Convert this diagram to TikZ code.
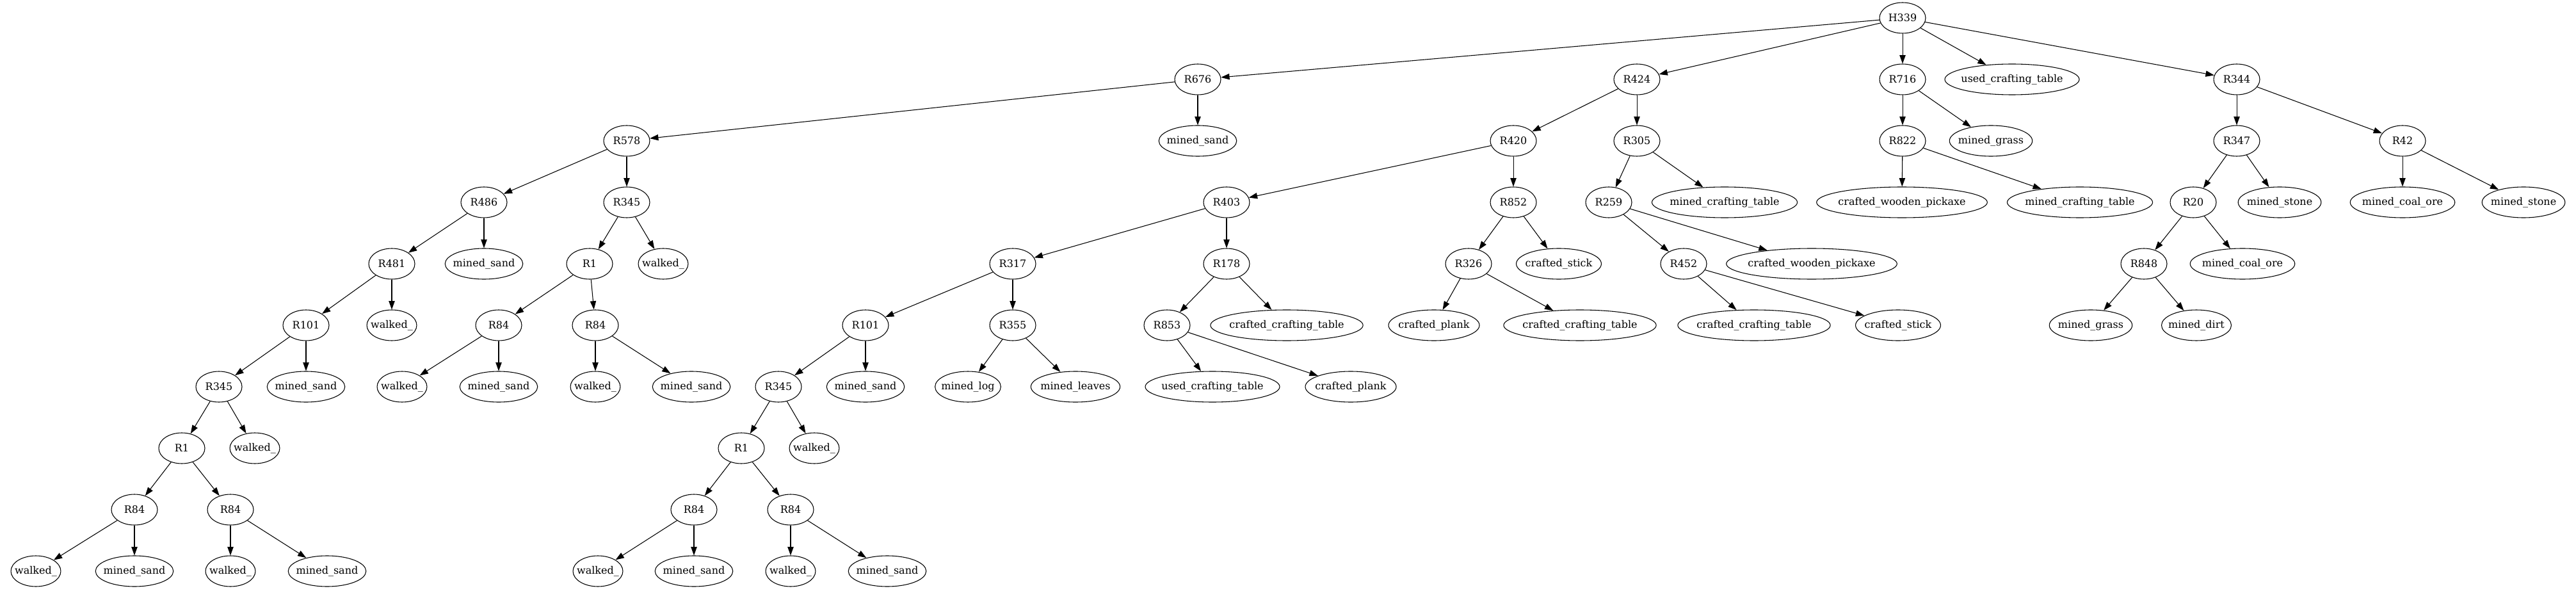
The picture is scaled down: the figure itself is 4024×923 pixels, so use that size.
\documentclass[tikz,border=0pt]{standalone}
\usepackage{fontspec}
\setmainfont{DejaVu Serif}
\usetikzlibrary{shapes.geometric,arrows.meta}
\newcommand{\gfont}{\fontsize{12}{14}\selectfont}
\newdimen\labelwd
% node with the ellipse width graphviz gives its label
\newcommand{\gnode}[3]{\settowidth{\labelwd}{\gfont #3}%
  \pgfmathsetlengthmacro{\ellwd}{max(54pt,1.2246*\labelwd+23pt)}%
  \node[minimum width=\ellwd] (#1) at (#2) {#3};}

\begin{document}
\begin{tikzpicture}[x=0.75pt,y=-0.75pt,line width=0.8pt,
    every node/.style={ellipse,draw,inner xsep=-4pt,inner ysep=2pt,
      minimum height=36pt,font=\gfont},
    >={Triangle[length=10pt,width=7pt]}]
      \useasboundingbox (0,0) rectangle (4024,923);
      % rank 0 and 1
      \gnode{1}{2972,28}{H339}
      \gnode{2}{1871,124}{R676}
      \gnode{3}{2557,124}{R424}
      \gnode{4}{2972,124}{R716}
      \gnode{5}{3143,124}{used\_crafting\_table}
      \gnode{6}{3494,124}{R344}
      % rank 2
      \gnode{7}{979,220}{R578}
      \gnode{8}{1871,220}{mined\_sand}
      \gnode{9}{2364,220}{R420}
      \gnode{10}{2557,220}{R305}
      \gnode{11}{2972,220}{R822}
      \gnode{12}{3110,220}{mined\_grass}
      \gnode{13}{3494,220}{R347}
      \gnode{14}{3753,220}{R42}
      % rank 3
      \gnode{15}{756,316}{R486}
      \gnode{16}{979,316}{R345}
      \gnode{17}{1916,316}{R403}
      \gnode{18}{2364,316}{R852}
      \gnode{19}{2513,316}{R259}
      \gnode{20}{2694,316}{mined\_crafting\_table}
      \gnode{21}{2971,316}{crafted\_wooden\_pickaxe}
      \gnode{22}{3249,316}{mined\_crafting\_table}
      \gnode{23}{3426,316}{R20}
      \gnode{24}{3561,316}{mined\_stone}
      \gnode{25}{3753,316}{mined\_coal\_ore}
      \gnode{26}{3942,316}{mined\_stone}
      % rank 4
      \gnode{27}{612,412}{R481}
      \gnode{28}{756,412}{mined\_sand}
      \gnode{29}{921,412}{R1}
      \gnode{30}{1036,412}{walked\_}
      \gnode{31}{1582,412}{R317}
      \gnode{32}{1916,412}{R178}
      \gnode{33}{2294,412}{R326}
      \gnode{34}{2435,412}{crafted\_stick}
      \gnode{35}{2630,412}{R452}
      \gnode{36}{2830,412}{crafted\_wooden\_pickaxe}
      \gnode{37}{3349,412}{R848}
      \gnode{38}{3503,412}{mined\_coal\_ore}
      % rank 5
      \gnode{39}{478,508}{R101}
      \gnode{40}{612,508}{walked\_}
      \gnode{41}{779,508}{R84}
      \gnode{42}{930,508}{R84}
      \gnode{43}{1352,508}{R101}
      \gnode{44}{1582,508}{R355}
      \gnode{45}{1823,508}{R853}
      \gnode{46}{2010,508}{crafted\_crafting\_table}
      \gnode{47}{2240,508}{crafted\_plank}
      \gnode{48}{2468,508}{crafted\_crafting\_table}
      \gnode{49}{2740,508}{crafted\_crafting\_table}
      \gnode{50}{2965,508}{crafted\_stick}
      \gnode{51}{3266,508}{mined\_grass}
      \gnode{52}{3431,508}{mined\_dirt}
      % rank 6
      \gnode{53}{342,604}{R345}
      \gnode{54}{478,604}{mined\_sand}
      \gnode{55}{628,604}{walked\_}
      \gnode{56}{779,604}{mined\_sand}
      \gnode{57}{930,604}{walked\_}
      \gnode{58}{1080,604}{mined\_sand}
      \gnode{59}{1216,604}{R345}
      \gnode{60}{1352,604}{mined\_sand}
      \gnode{61}{1512,604}{mined\_log}
      \gnode{62}{1680,604}{mined\_leaves}
      \gnode{63}{1894,604}{used\_crafting\_table}
      \gnode{64}{2110,604}{crafted\_plank}
      % rank 7
      \gnode{65}{284,700}{R1}
      \gnode{66}{398,700}{walked\_}
      \gnode{67}{1158,700}{R1}
      \gnode{68}{1272,700}{walked\_}
      % rank 8
      \gnode{69}{210,796}{R84}
      \gnode{70}{360,796}{R84}
      \gnode{71}{1084,796}{R84}
      \gnode{72}{1235,796}{R84}
      % rank 9
      \gnode{73}{56,892}{walked\_}
      \gnode{74}{210,892}{mined\_sand}
      \gnode{75}{360,892}{walked\_}
      \gnode{76}{511,892}{mined\_sand}
      \gnode{77}{934,892}{walked\_}
      \gnode{78}{1084,892}{mined\_sand}
      \gnode{79}{1235,892}{walked\_}
      \gnode{80}{1386,892}{mined\_sand}

      \draw[->] (1) -- (2); \draw[->] (1) -- (3); \draw[->] (1) -- (4);
      \draw[->] (1) -- (5); \draw[->] (1) -- (6);
      \draw[->] (2) -- (7); \draw[->] (2) -- (8);
      \draw[->] (3) -- (9); \draw[->] (3) -- (10);
      \draw[->] (4) -- (11); \draw[->] (4) -- (12);
      \draw[->] (6) -- (13); \draw[->] (6) -- (14);
      \draw[->] (7) -- (15); \draw[->] (7) -- (16);
      \draw[->] (9) -- (17); \draw[->] (9) -- (18);
      \draw[->] (10) -- (19); \draw[->] (10) -- (20);
      \draw[->] (11) -- (21); \draw[->] (11) -- (22);
      \draw[->] (13) -- (23); \draw[->] (13) -- (24);
      \draw[->] (14) -- (25); \draw[->] (14) -- (26);
      \draw[->] (15) -- (27); \draw[->] (15) -- (28);
      \draw[->] (16) -- (29); \draw[->] (16) -- (30);
      \draw[->] (17) -- (31); \draw[->] (17) -- (32);
      \draw[->] (18) -- (33); \draw[->] (18) -- (34);
      \draw[->] (19) -- (35); \draw[->] (19) -- (36);
      \draw[->] (23) -- (37); \draw[->] (23) -- (38);
      \draw[->] (27) -- (39); \draw[->] (27) -- (40);
      \draw[->] (29) -- (41); \draw[->] (29) -- (42);
      \draw[->] (31) -- (43); \draw[->] (31) -- (44);
      \draw[->] (32) -- (45); \draw[->] (32) -- (46);
      \draw[->] (33) -- (47); \draw[->] (33) -- (48);
      \draw[->] (35) -- (49); \draw[->] (35) -- (50);
      \draw[->] (37) -- (51); \draw[->] (37) -- (52);
      \draw[->] (39) -- (53); \draw[->] (39) -- (54);
      \draw[->] (41) -- (55); \draw[->] (41) -- (56);
      \draw[->] (42) -- (57); \draw[->] (42) -- (58);
      \draw[->] (43) -- (59); \draw[->] (43) -- (60);
      \draw[->] (44) -- (61); \draw[->] (44) -- (62);
      \draw[->] (45) -- (63); \draw[->] (45) -- (64);
      \draw[->] (53) -- (65); \draw[->] (53) -- (66);
      \draw[->] (59) -- (67); \draw[->] (59) -- (68);
      \draw[->] (65) -- (69); \draw[->] (65) -- (70);
      \draw[->] (67) -- (71); \draw[->] (67) -- (72);
      \draw[->] (69) -- (73); \draw[->] (69) -- (74);
      \draw[->] (70) -- (75); \draw[->] (70) -- (76);
      \draw[->] (71) -- (77); \draw[->] (71) -- (78);
      \draw[->] (72) -- (79); \draw[->] (72) -- (80);
    \end{tikzpicture}
\end{document}
